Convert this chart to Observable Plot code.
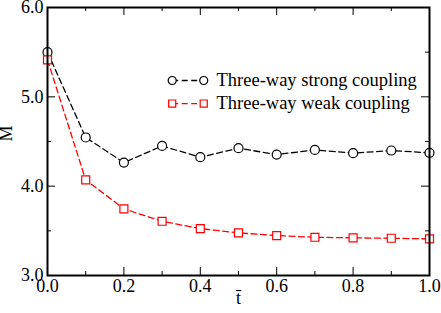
<!DOCTYPE html>
<html><head><meta charset="utf-8">
<script src="https://cdn.jsdelivr.net/npm/d3@7"></script>
<script src="https://cdn.jsdelivr.net/npm/@observablehq/plot@0.6"></script>
<style>
body{margin:0;background:#fff}
#chart svg text{font-family:"Liberation Serif",Tinos,"Times New Roman",serif !important;}
</style>
</head><body><div id="chart"></div>
<script>
const tValues = [0.0, 0.1, 0.2, 0.3, 0.4, 0.5, 0.6, 0.7, 0.8, 0.9, 1.0];
const strongM = [5.50, 4.545, 4.264, 4.45, 4.324, 4.425, 4.354, 4.406, 4.369, 4.399, 4.373];
const weakM   = [5.414, 4.07, 3.746, 3.607, 3.525, 3.477, 3.447, 3.428, 3.421, 3.417, 3.41];
const seriesNames = ["Three-way strong coupling", "Three-way weak coupling"];
const seriesColors = ["#000000", "#ff0000"];
const seriesSymbols = ["circle", "square"];
const xMajorTicks = [0.0, 0.2, 0.4, 0.6, 0.8, 1.0];
const xMinorTicks = [0.1, 0.3, 0.5, 0.7, 0.9];
const yMajorTicks = [3.0, 4.0, 5.0, 6.0];
const yMinorTicks = [3.5, 4.5, 5.5];
const xLabel = "t\u0304";
const yLabel = "M\u0304";

const W = 441, H = 313;
const mL = 47, mR = 12, mT = 7, mB = 38;
const iW = W - mL - mR, iH = H - mT - mB;

const data = [];
tValues.forEach((t, i) => {
  data.push({series: seriesNames[0], t, M: strongM[i]});
  data.push({series: seriesNames[1], t, M: weakM[i]});
});

// legend layout (fractions of the frame)
const lx1 = 0.3264, lx2 = 0.409, ltx = 0.4424;
const ly = [5.183, 4.925];
const legend = seriesNames.map((s, i) => ({series: s, x1: lx1, x2: lx2, xt: ltx, y: ly[i]}));

const dash = "6,3.5";
const serifFont = "Liberation Serif";

const chart = Plot.plot({
  width: W, height: H,
  marginLeft: mL, marginRight: mR, marginTop: mT, marginBottom: mB,
  style: {fontFamily: serifFont, fontSize: "18px"},
  x: {domain: [0, 1]},
  y: {domain: [3, 6]},
  color: {domain: seriesNames, range: seriesColors},
  symbol: {domain: seriesNames, range: seriesSymbols},
  marks: [
    Plot.axisX({ticks: xMajorTicks, tickSize: 0, tickPadding: 4, tickFormat: d3.format(".1f"), label: null, fontSize: 18, fontFamily: serifFont}),
    Plot.axisY({ticks: yMajorTicks, tickSize: 0, tickPadding: 4, tickFormat: d3.format(".1f"), label: null, fontSize: 18, fontFamily: serifFont}),
    Plot.text([xLabel], {frameAnchor: "bottom", dy: 28, text: d => d, fontSize: 18, fontFamily: serifFont}),
    Plot.text([yLabel], {frameAnchor: "left", dx: -41, rotate: -90, text: d => d, fontSize: 18, fontFamily: serifFont}),
    Plot.text(legend, {x: "xt", y: "y", text: "series", textAnchor: "start", fontSize: 18.5, fontFamily: serifFont}),
    Plot.tickX(xMajorTicks, {x: d => d, insetTop: iH - 8, stroke: "black", strokeWidth: 1}),
    Plot.tickX(xMajorTicks, {x: d => d, insetBottom: iH - 8, stroke: "black", strokeWidth: 1}),
    Plot.tickX(xMinorTicks, {x: d => d, insetTop: iH - 4, stroke: "black", strokeWidth: 1}),
    Plot.tickX(xMinorTicks, {x: d => d, insetBottom: iH - 4, stroke: "black", strokeWidth: 1}),
    Plot.tickY(yMajorTicks, {y: d => d, insetRight: iW - 8, stroke: "black", strokeWidth: 1}),
    Plot.tickY(yMajorTicks, {y: d => d, insetLeft: iW - 8, stroke: "black", strokeWidth: 1}),
    Plot.tickY(yMinorTicks, {y: d => d, insetRight: iW - 4, stroke: "black", strokeWidth: 1}),
    Plot.tickY(yMinorTicks, {y: d => d, insetLeft: iW - 4, stroke: "black", strokeWidth: 1}),
    Plot.line(data, {x: "t", y: "M", z: "series", stroke: "series", strokeWidth: 1.3, strokeDasharray: dash}),
    Plot.dot(data, {x: "t", y: "M", stroke: "series", symbol: "series", fill: "white", r: 4.5, strokeWidth: 1.2}),
    Plot.link(legend, {x1: "x1", x2: "x2", y1: "y", y2: "y", stroke: "series", strokeWidth: 1.3, strokeDasharray: dash}),
    Plot.dot(legend, {x: "x1", y: "y", stroke: "series", symbol: "series", fill: "white", r: 4, strokeWidth: 1.2}),
    Plot.dot(legend, {x: "x2", y: "y", stroke: "series", symbol: "series", fill: "white", r: 4, strokeWidth: 1.2}),
    Plot.frame({stroke: "black", strokeWidth: 2})
  ]
});
document.getElementById("chart").append(chart);
// force text layout with the serif face
chart.querySelectorAll("text").forEach(t => { t.style.setProperty("font-family", "'Liberation Serif', Tinos, 'Times New Roman', serif", "important"); t.getComputedTextLength(); });
</script>
</body></html>
